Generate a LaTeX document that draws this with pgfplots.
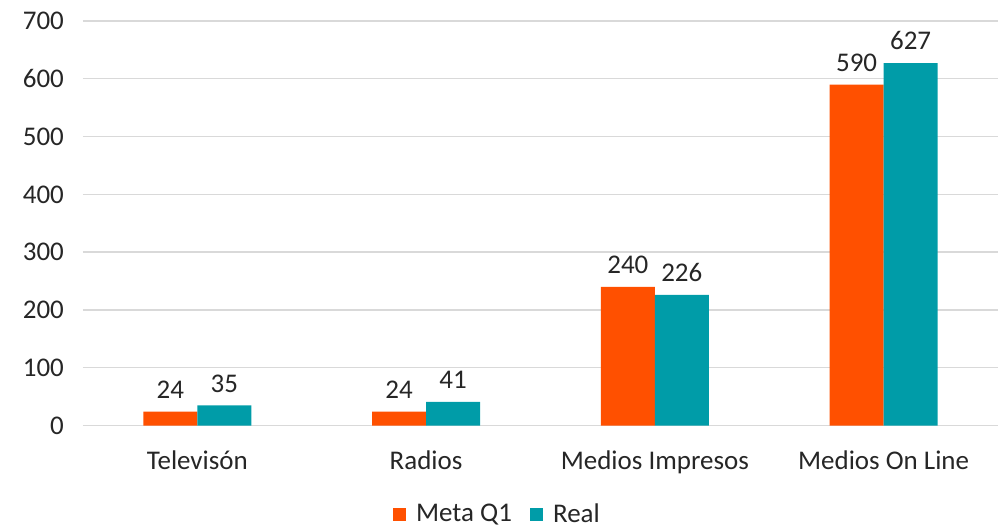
\documentclass[border=0pt]{standalone}
\usepackage{pgfplots}
\pgfplotsset{compat=1.18}
\usepackage{fontspec}
\setmainfont{Carlito}
\definecolor{metaC}{HTML}{FF5000}
\definecolor{realC}{HTML}{009CA8}
\definecolor{gridC}{HTML}{D9D9D9}
\begin{document}
\begin{tikzpicture}
\begin{axis}[
  scale only axis,
  width=458pt, height=202.5pt,
  xmin=-0.5, xmax=3.5,
  ymin=0, ymax=700,
  ytick={0,100,...,700},
  xtick={0,1,2,3},
  xticklabels={Televisón,Radios,Medios Impresos,Medios On Line},
  axis line style={draw=none},
  major tick length=0pt,
  ymajorgrids,
  grid style={gridC, line width=0.7pt},
  ybar=0pt, bar width=27pt,
  font=\fontsize{13.5}{16}\selectfont,
  /pgf/number format/assume math mode=true,
  yticklabel style={xshift=-6pt},
  xticklabel style={yshift=-9pt},
  nodes near coords,
  nodes near coords style={font=\fontsize{13.5}{16}\selectfont, text=black!85, yshift=3pt},
  ticklabel style={text=black!85},
  legend style={at={(0.454,-0.22)}, anchor=center, draw=none, legend columns=-1,
    font=\fontsize{13.5}{16}\selectfont, text=black!85,
    /tikz/every odd column/.append style={column sep=3pt},
    /tikz/every even column/.append style={column sep=7pt}},
  legend image code/.code={\fill[#1] (0pt,-3.3pt) rectangle (6.6pt,3.3pt);},
]
\addplot[fill=metaC, draw=none] coordinates {(0,24) (1,24) (2,240) (3,590)};
\addplot[fill=realC, draw=none] coordinates {(0,35) (1,41) (2,226) (3,627)};
\legend{Meta Q1, Real}
\end{axis}
\pgfresetboundingbox
\useasboundingbox (current axis.south west) ++(-41.5pt,-51.5pt) rectangle ([xshift=0pt,yshift=10.5pt]current axis.north east);
\end{tikzpicture}
\end{document}
